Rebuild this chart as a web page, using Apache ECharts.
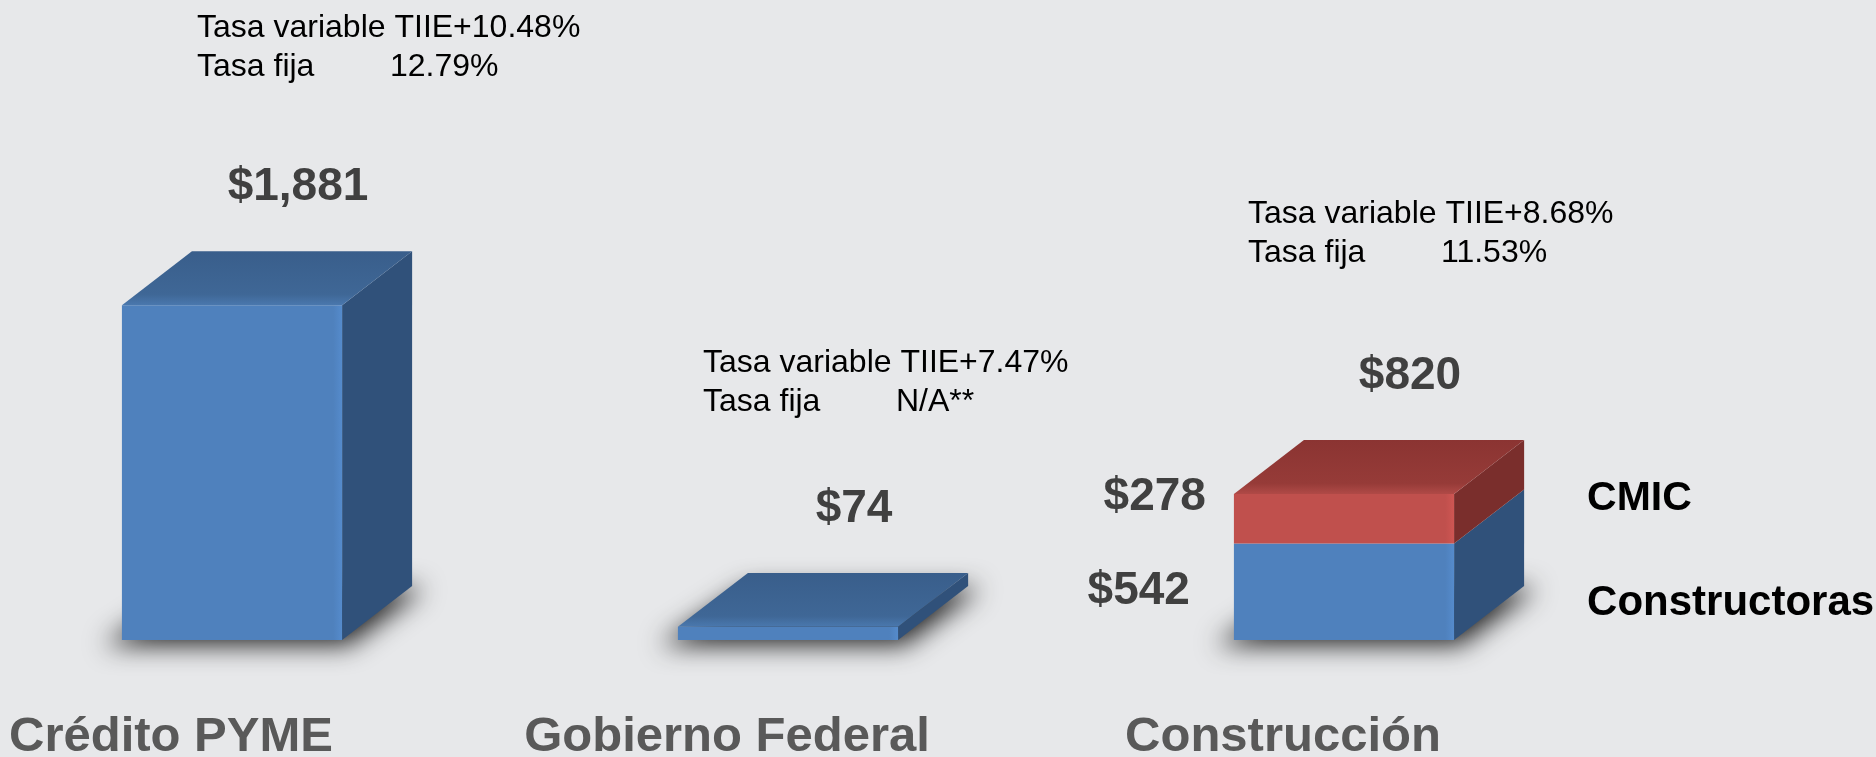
<!DOCTYPE html>
<html>
<head>
<meta charset="utf-8">
<script src="https://cdn.jsdelivr.net/npm/echarts@6/dist/echarts.min.js"></script>
<style>
    html, body { margin: 0; padding: 0; background: #E7E8EA; }
    #chart { width: 1876px; height: 757px; }
</style>
</head>
<body>
<div id="chart"></div>
<script>

var categories = ['Crédito PYME', 'Gobierno Federal', 'Construcción'];
var baseValues = [1881, 74, 542];
var cmicValues = [0, 0, 278];
var segmentNames = ['Constructoras', 'CMIC'];
var tasaVariable = ['TIIE+10.48%', 'TIIE+7.47%', 'TIIE+8.68%'];
var tasaFija = ['12.79%', 'N/A**', '11.53%'];

var FONT = 'Liberation Sans, Arial, sans-serif';

function money(v) {
    return '$' + v.toLocaleString('en-US');
}

// rate boxes above each column (left x, first line y)
var ratePos = [[197, 28], [703, 363], [1248, 214]];

function rateGraphics() {
    var arr = [];
    for (var i = 0; i < ratePos.length; i++) {
        var x = ratePos[i][0], y = ratePos[i][1];
        arr.push({
            type : 'text', x : x, y : y,
            style : { text : 'Tasa variable ' + tasaVariable[i], fill : '#000', fontSize : 32, fontFamily : FONT, verticalAlign : 'middle' }
        });
        arr.push({
            type : 'text', x : x, y : y + 39,
            style : { text : 'Tasa fija', fill : '#000', fontSize : 32, fontFamily : FONT, verticalAlign : 'middle' }
        });
        arr.push({
            type : 'text', x : x + 193, y : y + 39,
            style : { text : tasaFija[i], fill : '#000', fontSize : 32, fontFamily : FONT, verticalAlign : 'middle' }
        });
    }
    return arr;
}

var colors = {
    blue : { front : '#4F81BD', side : '#30517A', top : ['#395E8B', '#3F6796', '#4A78AE'] },
    red  : { front : '#C0504D', side : '#7A2E2C', top : ['#8B3432', '#963B38', '#B04A47'] }
};

function renderBox(params, api) {
    var i = api.value(0);
    var b = api.value(1);
    var r = api.value(2);
    var total = b + r;

    var p0 = api.coord([i, 0]);
    var pb = api.coord([i, b]);
    var pt = api.coord([i, total]);
    var bw = api.size([1, 0])[0];
    var fw = bw * 0.396;
    var dx = fw * 0.318;
    var dy = fw * 0.245;
    var x0 = p0[0] - fw / 2;
    var x1 = x0 + fw;
    var y0 = p0[1];

    var children = [];

    // soft shadow on the floor; the shape sits off screen, only its shadow shows
    var off = 4000;
    children.push({
        type : 'polygon',
        shape : { points : [
            [x0 - 18 - off, y0 + 5], [x1 + 6 - off, y0 + 5],
            [x1 + dx + 12 - off, y0 - dy + 2], [x0 + dx - off, y0 - dy + 2]
        ] },
        style : {
            fill : '#000',
            shadowBlur : 26,
            shadowColor : 'rgba(0,0,0,0.85)',
            shadowOffsetX : off,
            shadowOffsetY : 0
        }
    });

    var segs = [{ lo : y0, hi : pb[1], c : colors.blue }];
    if (r > 0) segs.push({ lo : pb[1], hi : pt[1], c : colors.red });

    segs.forEach(function (s) {
        children.push({
            type : 'polygon',
            shape : { points : [[x1, s.lo], [x1 + dx, s.lo - dy], [x1 + dx, s.hi - dy], [x1, s.hi]] },
            style : { fill : s.c.side }
        });
        children.push({
            type : 'rect',
            shape : { x : x0, y : s.hi, width : fw, height : s.lo - s.hi },
            style : {
                fill : new echarts.graphic.LinearGradient(0, 0, 1, 0, [
                    { offset : 0, color : s.c.front },
                    { offset : 0.96, color : s.c.front },
                    { offset : 1, color : echarts.color.lift(s.c.front, -0.08) }
                ])
            }
        });
    });

    var last = segs[segs.length - 1];
    children.push({
        type : 'polygon',
        shape : { points : [[x0, last.hi], [x1, last.hi], [x1 + dx, last.hi - dy], [x0 + dx, last.hi - dy]] },
        style : {
            fill : new echarts.graphic.LinearGradient(0, 0, 0, 1, [
                { offset : 0, color : last.c.top[0] },
                { offset : 0.8, color : last.c.top[1] },
                { offset : 1, color : last.c.top[2] }
            ])
        }
    });

    // total on top
    children.push({
        type : 'text', x : x0 + fw / 2 + 66, y : last.hi - dy - 64,
        style : { text : money(total), fill : '#404040', fontSize : 46, fontWeight : 'bold', fontFamily : FONT, align : 'center', verticalAlign : 'middle' }
    });

    // stacked column: part values left, part names right
    if (r > 0) {
        children.push({
            type : 'text', x : x0 - 44, y : (y0 + pb[1]) / 2,
            style : { text : money(b), fill : '#404040', fontSize : 46, fontWeight : 'bold', fontFamily : FONT, align : 'right', verticalAlign : 'middle' }
        });
        children.push({
            type : 'text', x : x0 - 28, y : pt[1] + 3,
            style : { text : money(r), fill : '#404040', fontSize : 46, fontWeight : 'bold', fontFamily : FONT, align : 'right', verticalAlign : 'middle' }
        });
        children.push({
            type : 'text', x : x1 + dx + 63, y : pt[1] + 5,
            style : { text : segmentNames[1], fill : '#000', fontSize : 41, fontWeight : 'bold', fontFamily : FONT, verticalAlign : 'middle' }
        });
        children.push({
            type : 'text', x : x1 + dx + 63, y : (y0 + pb[1]) / 2 + 12,
            style : { text : segmentNames[0], fill : '#000', fontSize : 42, fontWeight : 'bold', fontFamily : FONT, verticalAlign : 'middle' }
        });
    }

    return { type : 'group', children : children };
}

var boxData = categories.map(function (c, i) {
    return [i, baseValues[i], cmicValues[i]];
});

var option = {
    backgroundColor : '#E7E8EA',
    animation : false,
    grid : { left : -46, width : 1668, top : 284, bottom : 117, outerBoundsMode : 'none', containLabel : false },
    xAxis : {
        type : 'category',
        data : categories,
        axisLine : { show : false },
        axisTick : { show : false },
        splitLine : { show : false },
        axisLabel : {
            interval : 0,
            margin : 72,
            padding : [0, 122, 0, 0],
            fontSize : 49,
            lineHeight : 50,
            fontWeight : 'bold',
            fontFamily : FONT,
            color : '#595959'
        }
    },
    yAxis : {
        type : 'value',
        min : 0,
        max : 2000,
        show : false
    },
    graphic : rateGraphics(),
    series : [
        {
            name : 'Monto',
            type : 'custom',
            renderItem : renderBox,
            encode : { x : 0, y : [1, 2] },
            data : boxData,
            clip : false
        }
    ]
};

var chart = echarts.init(document.getElementById('chart'));
chart.setOption(option);

window.addEventListener('resize', function () {
    chart.resize();
});
</script>
</body>
</html>
